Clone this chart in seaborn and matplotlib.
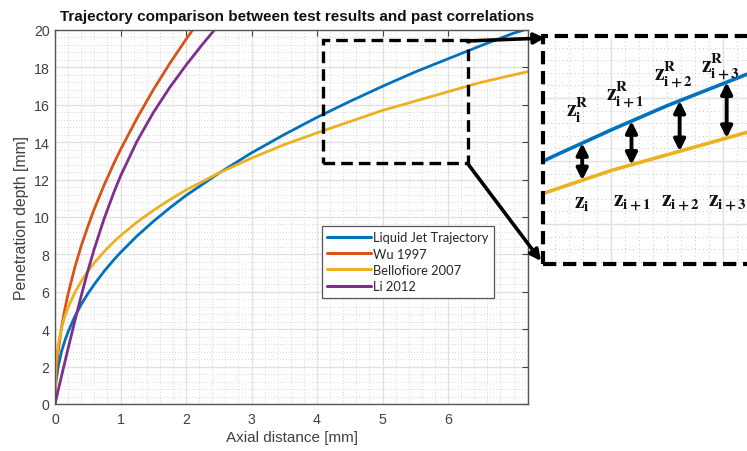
import numpy as np
import pandas as pd
import matplotlib
matplotlib.use("Agg")
import matplotlib.pyplot as plt
import seaborn as sns
from matplotlib.patches import Rectangle, FancyArrowPatch
from matplotlib.lines import Line2D
from matplotlib.ticker import MultipleLocator

# ---------------- data ----------------
series_names = ["Liquid Jet Trajectory", "Wu 1997", "Bellofiore 2007", "Li 2012"]
series_colors = ["#0072BD", "#D95319", "#EDB120", "#7E2F8E"]

jet_x = [0, 0.01, 0.02, 0.05, 0.1, 0.15, 0.2, 0.3, 0.4, 0.5, 0.6, 0.75, 0.9, 1.0,
         1.25, 1.5, 1.75, 2.0, 2.5, 3.0, 3.5, 4.0, 4.5, 5.0, 5.5, 6.0, 6.5, 7.0, 7.25]
jet_y = [0, 0.98, 1.34, 2.04, 2.81, 3.38, 3.86, 4.66, 5.32, 5.89, 6.40, 7.10, 7.72, 8.10,
         8.98, 9.76, 10.48, 11.15, 12.34, 13.43, 14.41, 15.33, 16.18, 16.99, 17.76,
         18.46, 19.16, 19.83, 20.1]

wu_x = [0, 0.01, 0.02, 0.05, 0.1, 0.15, 0.2, 0.3, 0.4, 0.5, 0.6, 0.75, 0.9, 1.0,
        1.25, 1.5, 1.75, 2.0, 2.2]
wu_y = [0, 1.24, 1.78, 2.86, 4.11, 5.07, 5.89, 7.27, 8.45, 9.48, 10.43, 11.71, 12.88,
        13.6, 15.27, 16.80, 18.20, 19.50, 20.5]

bel_x = [0, 0.01, 0.02, 0.05, 0.1, 0.15, 0.2, 0.3, 0.4, 0.5, 0.6, 0.75, 0.9, 1.0,
         1.25, 1.5, 1.75, 2.0, 2.5, 3.0, 3.5, 4.0, 4.5, 5.0, 5.5, 6.0, 6.5, 7.0, 7.25]
bel_y = [0, 1.84, 2.33, 3.20, 4.07, 4.68, 5.17, 5.94, 6.56, 7.09, 7.55, 8.15, 8.68, 9.0,
         9.72, 10.35, 10.92, 11.44, 12.35, 13.15, 13.87, 14.5, 15.1, 15.7, 16.2, 16.7,
         17.2, 17.6, 17.8]

li_x = [0, 0.1, 0.2, 0.3, 0.4, 0.5, 0.6, 0.75, 0.9, 1.0, 1.25, 1.5, 1.75, 2.0,
        2.25, 2.5]
li_y = [0, 1.5, 2.97, 4.4, 5.78, 7.1, 8.3, 9.91, 11.33, 12.19, 14.04, 15.58, 16.92,
        18.12, 19.23, 20.28]

x_ticks = [0, 1, 2, 3, 4, 5, 6]
y_ticks = [0, 2, 4, 6, 8, 10, 12, 14, 16, 18, 20]

zoom_labels_top = [r"$\mathbf{z_{i}^{R}}$", r"$\mathbf{z_{i+1}^{R}}$",
                   r"$\mathbf{z_{i+2}^{R}}$", r"$\mathbf{z_{i+3}^{R}}$"]
zoom_labels_bot = [r"$\mathbf{z_{i}}$", r"$\mathbf{z_{i+1}}$",
                   r"$\mathbf{z_{i+2}}$", r"$\mathbf{z_{i+3}}$"]

# ---------------- build table ----------------
xs = [jet_x, wu_x, bel_x, li_x]
ys = [jet_y, wu_y, bel_y, li_y]
df = pd.concat([pd.DataFrame({"x": x, "y": y, "series": n})
                for x, y, n in zip(xs, ys, series_names)], ignore_index=True)
palette = dict(zip(series_names, series_colors))

# ---------------- figure ----------------
sns.set_style("white")
plt.rcParams["font.family"] = ["Liberation Sans", "DejaVu Sans"]
plt.rcParams["mathtext.fontset"] = "stix"

W, H = 747, 452
fig = plt.figure(figsize=(W / 100, H / 100), dpi=100)


def fx(px):
    return px / W


def fy(py):
    return 1 - py / H


TXT = "#404040"
GRID_MAJ = "#e0e0e0"
GRID_MIN = "#c8c8c8"

ax = fig.add_axes([fx(55), fy(405), fx(528) - fx(55), fy(31) - fy(405)])
sns.lineplot(data=df, x="x", y="y", hue="series", palette=palette, ax=ax,
             linewidth=2.0, legend=False, estimator=None, sort=False)

ax.set_xlim(0, 7.22)
ax.set_ylim(0, 20)
ax.set_xticks(x_ticks)
ax.set_yticks(y_ticks)
ax.xaxis.set_minor_locator(MultipleLocator(0.2))
ax.yaxis.set_minor_locator(MultipleLocator(0.4))
ax.grid(which="major", color=GRID_MAJ, linewidth=0.9, linestyle="-")
ax.grid(which="minor", color=GRID_MIN, linewidth=0.6, linestyle=(0, (1, 2.5)))
ax.set_axisbelow(True)
ax.tick_params(which="major", direction="in", top=True, right=True, length=4,
               width=0.8, color="#404040", labelsize=10.2, labelcolor=TXT)
ax.tick_params(axis="x", which="major", pad=6)
ax.tick_params(axis="y", which="major", pad=4)
ax.tick_params(which="minor", length=0)
for s in ax.spines.values():
    s.set_color("#555555")
    s.set_linewidth(1.0)
ax.set_xlabel("Axial distance [mm]", fontsize=11, color=TXT, labelpad=3)
ax.set_ylabel("Penetration depth [mm]", fontsize=11.3, color=TXT, labelpad=3)
ax.set_title("Trajectory comparison between test results and past correlations",
             fontsize=11.0, fontweight="bold", color="#111111", pad=7, x=0.512)

# legend
handles = [Line2D([0], [0], color=c, lw=2.2) for c in series_colors]
leg = ax.legend(handles, series_names, loc="upper left",
                bbox_to_anchor=(fx(322), fy(227)), bbox_transform=fig.transFigure,
                frameon=True, fancybox=False, framealpha=1, edgecolor="#555555",
                prop={"family": "Lato", "size": 9.3}, handlelength=3.4,
                handletextpad=0.12, borderpad=0.42, labelspacing=0.33,
                borderaxespad=0)
leg.get_frame().set_linewidth(0.9)

# dashed zoom rectangle in the main axes
rx0, ry0, rx1, ry1 = 4.09, 12.9, 6.31, 19.48
ax.add_patch(Rectangle((rx0, ry0), rx1 - rx0, ry1 - ry0, fill=False, color="black",
                       lw=2.4, linestyle=(0, (3.5, 1.8)), zorder=5))

# ---------------- inset (zoomed view) ----------------
axi = fig.add_axes([fx(543), fy(265), fx(811) - fx(543), fy(37) - fy(265)])
inset_df = df[df["series"].isin([series_names[0], series_names[2]])]
sns.lineplot(data=inset_df, x="x", y="y", hue="series", palette=palette, ax=axi,
             linewidth=2.6, legend=False, estimator=None, sort=False)
axi.set_xlim(4.39, 4.39 + 268 / 112)
axi.set_ylim(12.73, 19.97)
axi.xaxis.set_major_locator(MultipleLocator(1))
axi.yaxis.set_major_locator(MultipleLocator(2))
axi.xaxis.set_minor_locator(MultipleLocator(0.125))
axi.yaxis.set_minor_locator(MultipleLocator(0.4))
axi.grid(which="major", color=GRID_MAJ, linewidth=1.0)
axi.grid(which="minor", color=GRID_MIN, linewidth=0.7, linestyle=(0, (1, 3)))
axi.set_axisbelow(True)
axi.tick_params(which="both", length=0, labelbottom=False, labelleft=False)
axi.set_xlabel("")
axi.set_ylabel("")
for s in axi.spines.values():
    s.set_visible(False)
axi.add_patch(Rectangle((0, 0), 1, 1, transform=axi.transAxes, fill=False,
                        color="black", lw=3.0, linestyle=(0, (3.2, 1.6)),
                        clip_on=False, zorder=6))

# double-headed arrows between the two curves
arrow_x = [4.74, 5.18, 5.61, 6.03]
for xa in arrow_x:
    yb = np.interp(xa, bel_x, bel_y)
    yt = np.interp(xa, jet_x, jet_y)
    axi.add_patch(FancyArrowPatch((xa, yb), (xa, yt), arrowstyle="<|-|>",
                                  mutation_scale=17, lw=2.8, color="black",
                                  shrinkA=0, shrinkB=0, zorder=7))

top_px = [(577, 110), (625, 95), (673, 75), (720, 67)]
bot_px = [(582, 204), (632, 204), (680, 204), (727, 204)]
for lab, (px, py) in zip(zoom_labels_top, top_px):
    fig.text(fx(px), fy(py), lab, fontsize=15.5, ha="center", va="center",
             color="#111111")
for lab, (px, py) in zip(zoom_labels_bot, bot_px):
    fig.text(fx(px), fy(py), lab, fontsize=15.5, ha="center", va="center",
             color="#111111")

# connector arrows from rectangle to inset
for (x0, y0), (x1, y1) in [((467, 42), (545, 39)), ((468, 165), (541, 262))]:
    fig.patches.append(FancyArrowPatch((fx(x0), fy(y0)), (fx(x1), fy(y1)),
                                       transform=fig.transFigure,
                                       arrowstyle="-|>", mutation_scale=16,
                                       lw=2.6, color="black", shrinkA=0,
                                       shrinkB=0, zorder=10))

fig.savefig("out.png", dpi=100)
